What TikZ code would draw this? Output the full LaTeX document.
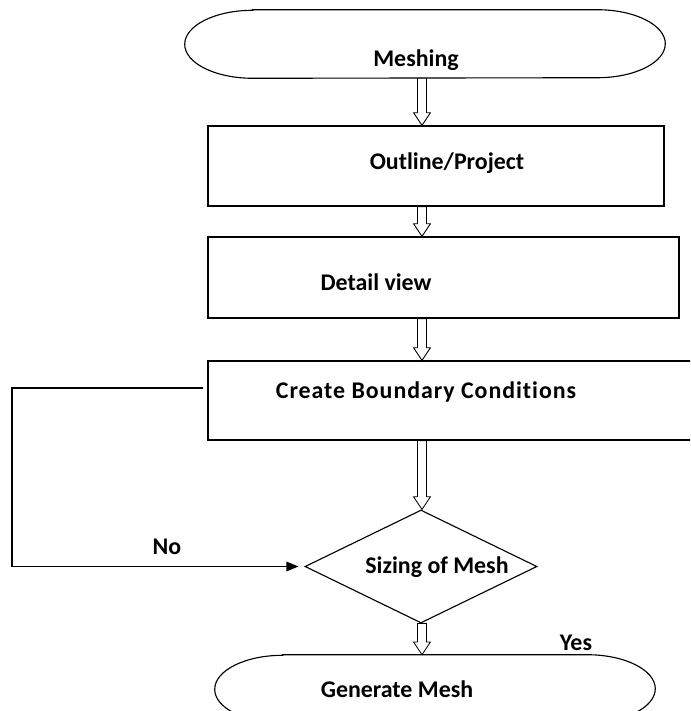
\documentclass[tikz,border=0pt]{standalone}
\usepackage{fontspec}
\setmainfont{Carlito}[Ligatures=CommonOff]
\usetikzlibrary{arrows.meta,calc,shapes.geometric}

% hollow block arrow between two points (vertical, downwards)
\newcommand{\hollowarrow}[2]{%
  \draw[blockarrow] let \p1=(#1), \p2=(#2) in
    (\x1-3.2pt,\y1) -- (\x1-3.2pt,\y2+9pt) -- (\x1-6pt,\y2+9pt) -- (\x2,\y2)
    -- (\x1+6pt,\y2+9pt) -- (\x1+3.2pt,\y2+9pt) -- (\x1+3.2pt,\y1) -- cycle;}

% terminal outline drawn round an empty node
\newcommand{\terminal}[1]{%
  \draw[termline] ([xshift=17mm]#1.north west) -- ([xshift=-17mm]#1.north east)
    arc[start angle=90, end angle=-90, x radius=17mm, y radius=8.5mm]
    -- ([xshift=17mm]#1.south west)
    arc[start angle=270, end angle=90, x radius=17mm, y radius=8.5mm] -- cycle;}

\tikzset{
  box/.style={draw, rectangle, line width=0.9pt, inner sep=0pt},
  decision/.style={draw, diamond, line width=0.8pt, inner sep=0pt},
  termbox/.style={rectangle, inner sep=0pt},
  termline/.style={line width=0.8pt},
  blockarrow/.style={draw, fill=white, line width=0.6pt},
  lbl/.style={font=\fontsize{17}{20}\selectfont\bfseries, inner sep=0pt},
}

\begin{document}
\begin{tikzpicture}[x=0.25mm, y=-0.25mm, >={Triangle[length=3mm,width=2.4mm]}]

    \useasboundingbox (0,0) rectangle (690,711);
    \clip (0,0) rectangle (690,711);

    % shapes
    \node[termbox, minimum width=120mm, minimum height=17mm] (start) at (425,44) {};
    \terminal{start}
    \node[box, minimum width=114mm, minimum height=20mm] (outline) at (436,166) {};
    \node[box, minimum width=117.75mm, minimum height=20.25mm] (detail) at (443.5,277.5) {};
    \node[box, minimum width=125.5mm, minimum height=19.75mm] (create) at (459,400.5) {};
    \node[decision, minimum width=58mm, minimum height=28.25mm] (sizing) at (421,566.5) {};
    \node[termbox, minimum width=110mm, minimum height=17mm] (finish) at (435,689) {};
    \terminal{finish}

    % texts
    \node[lbl] (meshing) at (416,60) {Meshing};
    \node[lbl] (outline-txt) at (447,163) {Outline/Project};
    \node[lbl] (detail-txt) at (376,282) {Detail view};
    \node[lbl] (create-txt) at (426,392) {\addfontfeatures{LetterSpace=4}Create Boundary Conditions};
    \node[lbl] (sizing-txt) at (437,567) {Sizing of Mesh};
    \node[lbl] (finish-txt) at (397,689) {Generate Mesh};
    \node[lbl] (no) at (167,547) {No};
    \node[lbl] (yes) at (576,643) {Yes};

    % main flow
    \coordinate (axis) at (422,0);
    \hollowarrow{start.south -| axis}{outline.north -| axis}
    \hollowarrow{outline.south -| axis}{detail.north -| axis}
    \hollowarrow{detail.south -| axis}{create.north -| axis}
    \hollowarrow{create.south -| axis}{sizing.north -| axis}
    \hollowarrow{sizing.south -| axis}{finish.north -| axis}

    % back loop
    \coordinate (loop-out) at (203,388);
    \coordinate (loop-left) at (12,388);
    \draw[->, line width=0.9pt, shorten >=1.5mm] (loop-out) -- (loop-left) |- (sizing.west);

\end{tikzpicture}
\end{document}
